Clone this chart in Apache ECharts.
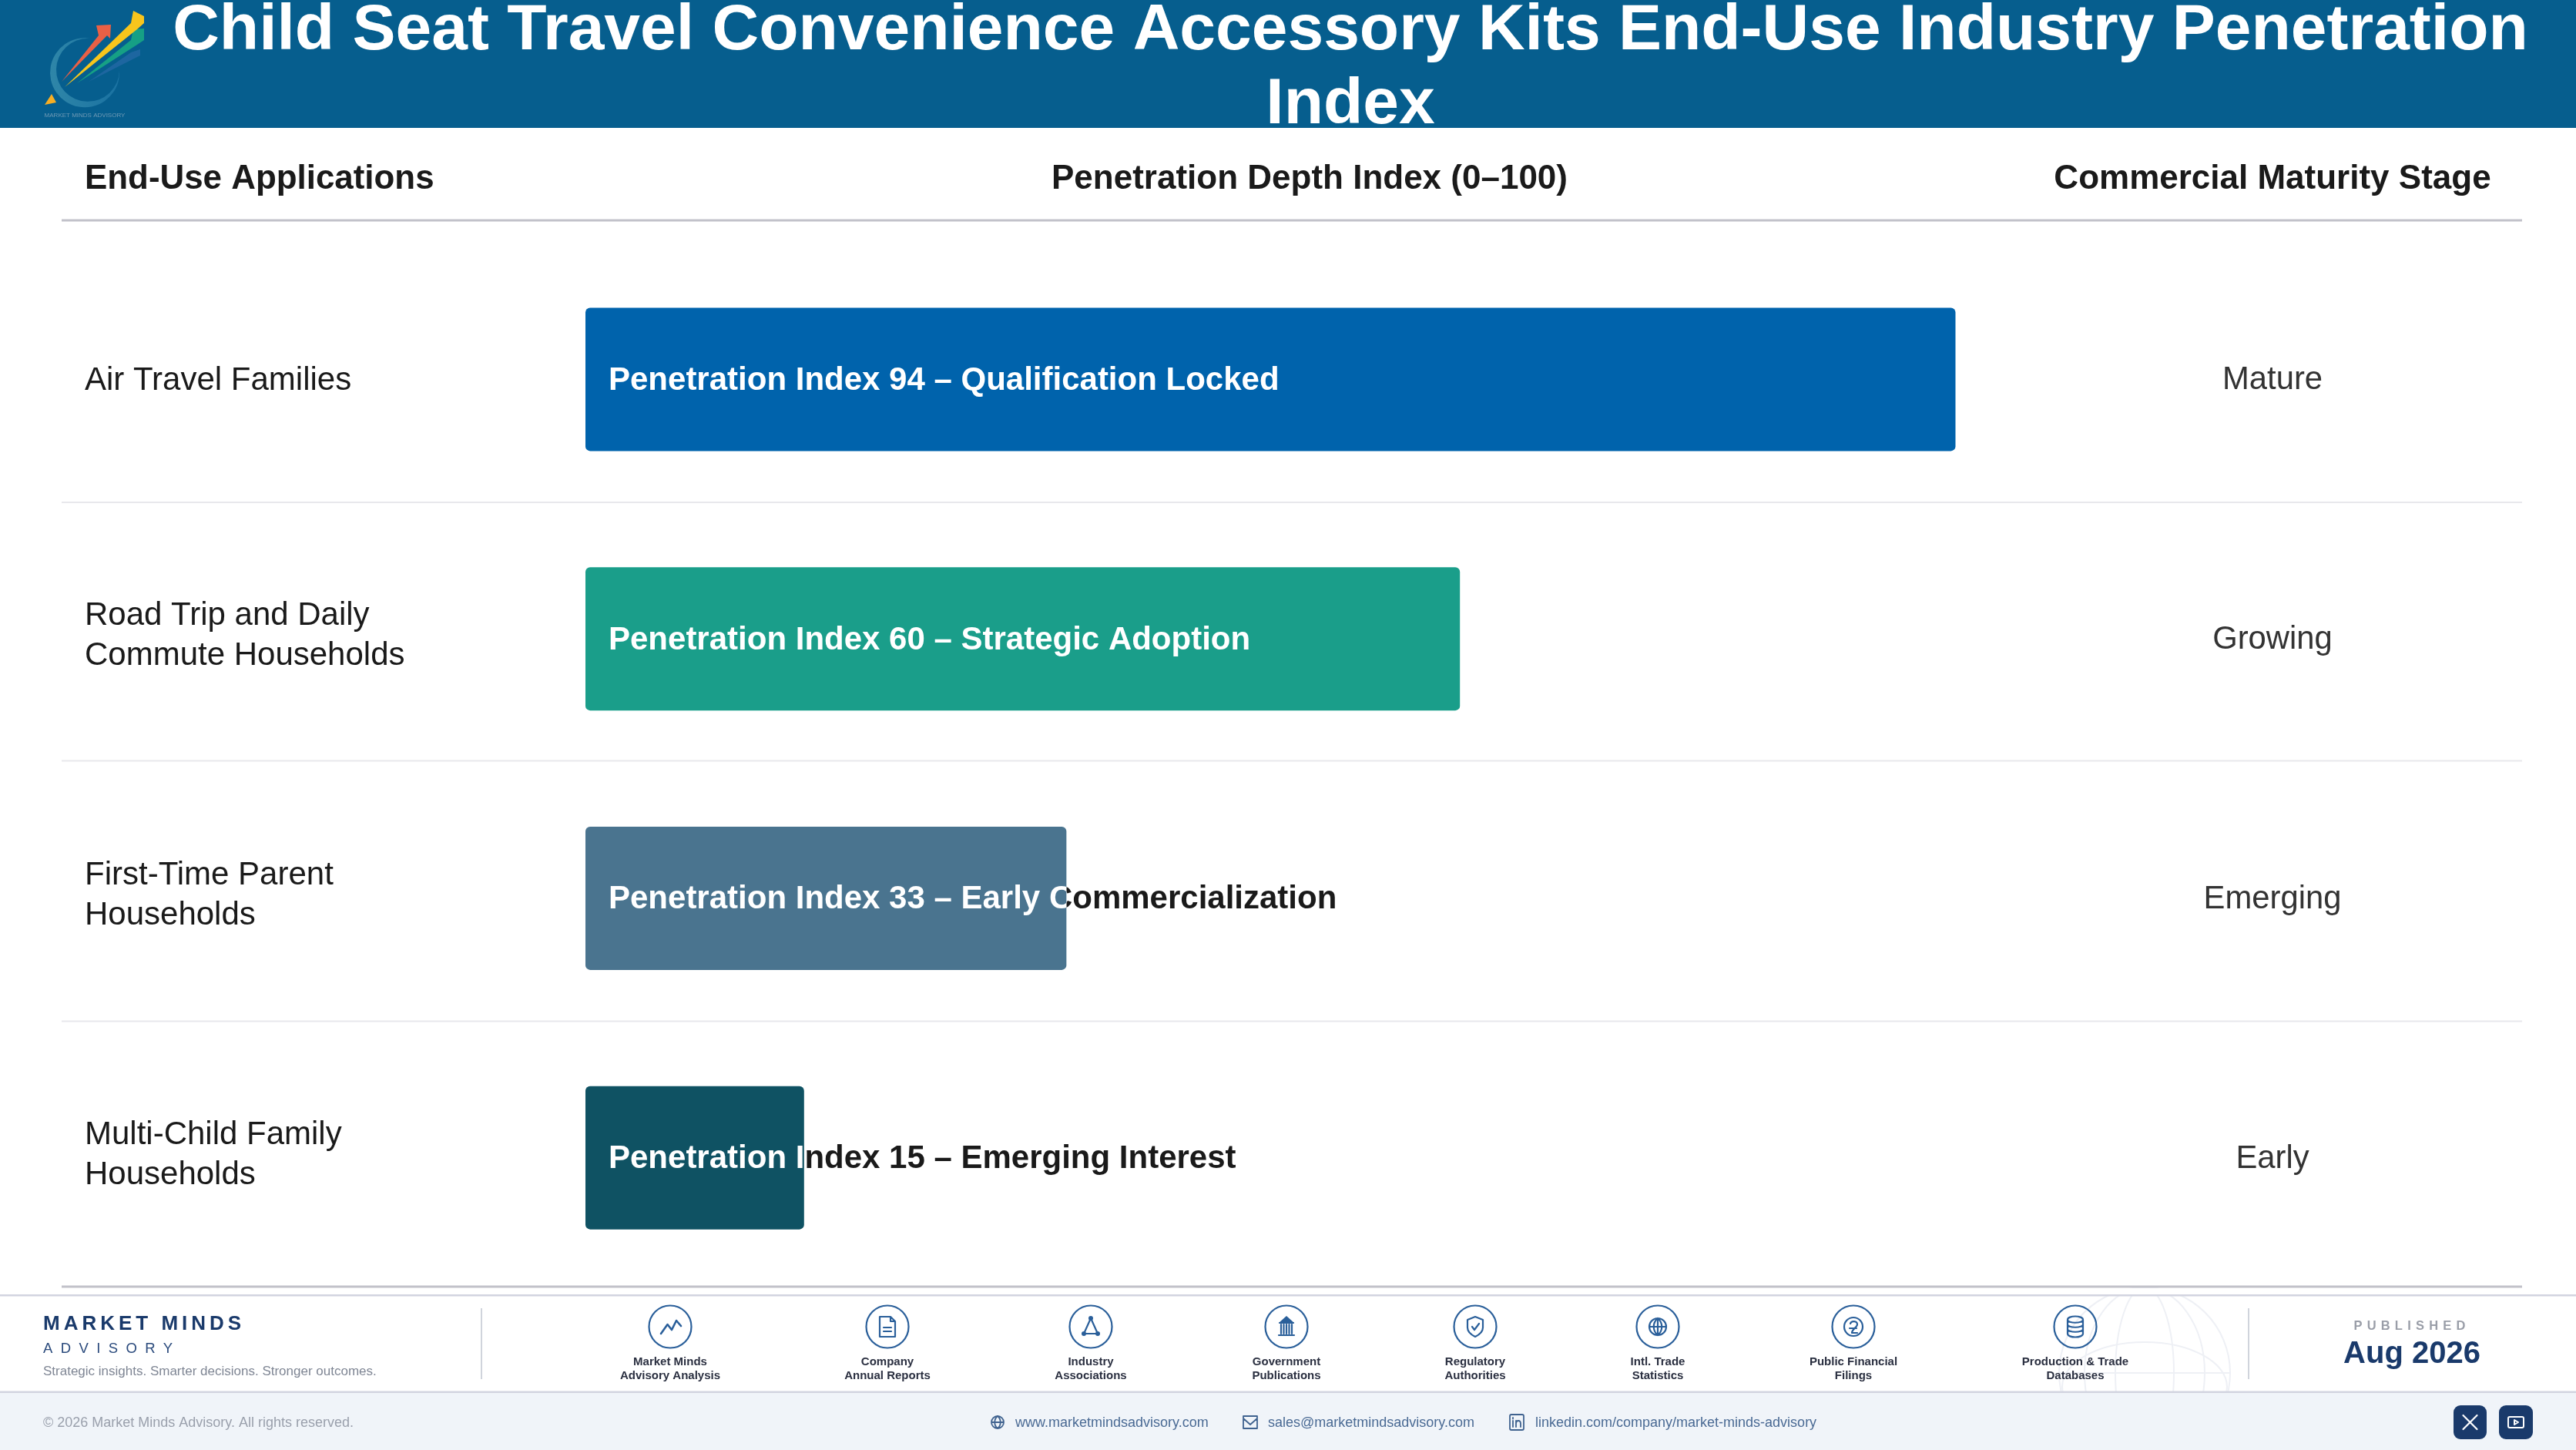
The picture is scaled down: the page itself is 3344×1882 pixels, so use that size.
<!DOCTYPE html>
<html>
<head>
<meta charset="utf-8">
<style>html,body{margin:0;padding:0;background:#fff}#c{width:3344px;height:1882px}</style>
<script src="https://cdn.jsdelivr.net/npm/echarts@6/dist/echarts.min.js"></script>
</head>
<body>
<div id="c"></div>
<script>
const titleText = 'Child Seat Travel Convenience Accessory Kits End-Use Industry Penetration\nIndex';
const columnHeaders = ['End-Use Applications', 'Penetration Depth Index (0–100)', 'Commercial Maturity Stage'];
const categories = ['Air Travel Families', 'Road Trip and Daily\nCommute Households', 'First-Time Parent\nHouseholds', 'Multi-Child Family\nHouseholds'];
const penetrationValues = [94, 60, 33, 15];
const adoptionPhases = ['Qualification Locked', 'Strategic Adoption', 'Early Commercialization', 'Emerging Interest'];
const maturityStages = ['Mature', 'Growing', 'Emerging', 'Early'];
const barColors = ['#0063ac', '#1a9e8a', '#4a748f', '#0f5263'];
const sourceLabels = ['Market Minds\nAdvisory Analysis', 'Company\nAnnual Reports', 'Industry\nAssociations', 'Government\nPublications', 'Regulatory\nAuthorities', 'Intl. Trade\nStatistics', 'Public Financial\nFilings', 'Production & Trade\nDatabases'];
const sourceCenters = [870, 1152, 1416, 1670, 1915, 2152, 2406, 2694];

const FF = '"Liberation Sans", Arial, sans-serif';
const LS = {'MARKET MINDS':'5px','ADVISORY':'10.4px','PUBLISHED':'6.2px'};
const origFill = CanvasRenderingContext2D.prototype.fillText;
CanvasRenderingContext2D.prototype.fillText = function (t, x, y, m) {
  this.letterSpacing = LS[t] || '0px';
  return m === undefined ? origFill.call(this, t, x, y) : origFill.call(this, t, x, y, m);
};

const iconPaths = {
  chart: 'M-12 9L-3.5 -3L2 4L8 -8L14 -1',
  doc: 'M-10 -13H4L10 -7V13H-10ZM4 -13V-7H10M-5 1H5M-5 6H5',
  tri: 'M0 -11L-9 9H9Z',
  bank: 'M-9 -5H9M-7 -3V9M-3.5 -3V9M0 -3V9M3.5 -3V9M7 -3V9M-10 11H10',
  shield: 'M0 -13L10 -9V1C10 7 4 11 0 13C-4 11 -10 7 -10 1V-9ZM-4 0L-1 4L5 -4',
  globe: 'M-11 0A11 11 0 1 1 11 0A11 11 0 1 1 -11 0ZM-11 0H11M0 -11V11M0 -11C-7 -5 -7 5 0 11M0 -11C7 -5 7 5 0 11',
  coin: 'M-12 0A12 12 0 1 1 12 0A12 12 0 1 1 -12 0ZM-4 -4C-3 -8 5 -8 5 -3C5 1 -2 3 -2 8H5M-5 2H4',
  db: 'M-10 -9C-10 -15 10 -15 10 -9C10 -4 -10 -4 -10 -9ZM-10 -9V9C-10 15 10 15 10 9V-9M-10 -3C-10 2 10 2 10 -3M-10 3C-10 8 10 8 10 3',
  mail: 'M-9 -8H9V8H-9ZM-9 -5L0 3L9 -5',
  web: 'M-8 0A8 8 0 1 1 8 0A8 8 0 1 1 -8 0ZM-8 0H8M0 -8C-5 -4 -5 4 0 8M0 -8C5 -4 5 4 0 8',
  linked: 'M-9 -8Q-9 -10 -7 -10H7Q9 -10 9 -8V8Q9 10 7 10H-7Q-9 10 -9 8ZM-5 -2V6M-1 6V-2M-1 2Q-1 -2 2 -2Q5 -2 5 2V6M-5 -6V-4.5',
  xmark: 'M-9 -9L9 9M9 -9L-9 9',
  play: 'M-10 -5Q-10 -7 -8 -7H8Q10 -7 10 -5V5Q10 7 8 7H-8Q-10 7 -10 5ZM-2 -3L3 0L-2 3Z',
  crescent: 'M118 50A45 45 0 1 0 155 92A41 41 0 1 1 118 50Z'
};
Object.keys(iconPaths).forEach(k => echarts.graphic.registerShape('ic_' + k, echarts.graphic.extendPath(iconPaths[k], {})));

function txt(text, x, y, font, fill, align, extra) {
  return {type:'text', x, y, z:10, silent:true, style:Object.assign({text, font, fill, align:align||'left', textAlign:align||'left', verticalAlign:'middle', textVerticalAlign:'middle'}, extra||{})};
}
function rect(x, y, w, h, fill, z, r) {
  return {type:'rect', silent:true, z:z||1, shape:{x, y, width:w, height:h, r:r||0}, style:{fill}};
}
function icon(k, x, y, stroke, sw, fill) {
  return {type:'ic_' + k, silent:true, x, y, z:10, style:{stroke:stroke||'#2a5f9a', lineWidth:sw||2, fill:fill||'none', lineCap:'round', lineJoin:'round'}};
}
function circle(x, y, r, stroke, sw, fill, z) {
  return {type:'circle', silent:true, z:z||10, shape:{cx:x, cy:y, r}, style:{stroke, lineWidth:sw, fill:fill||'none'}};
}
function poly(points, fill) {
  return {type:'polygon', silent:true, z:10, shape:{points}, style:{fill}};
}

const NAVY = '#1a3a6b', ICON = '#2a5f9a';
const g = [];
// header band
g.push(rect(0, 0, 3344, 166, '#065e8e', 1));
// logo
g.push({type:'ic_crescent', silent:true, z:10, style:{fill:new echarts.graphic.LinearGradient(0,0,1,0,[{offset:0,color:'#2f86a8'},{offset:1,color:'#1a72a2'}])}});
g.push(poly([[115,106],[170,68],[182,64],[182,72]], 'rgba(50,110,175,0.55)'));
g.push(poly([[100,108],[170,52],[173,38],[187,37],[187,52],[178,58]], '#16a085'));
g.push(poly([[84,113],[170,30],[173,14],[187,21],[187,30],[178,38]], '#f8c51c'));
g.push(poly([[80,106],[128,46],[125,33],[144,32],[143,50],[139,46]], '#ea6045'));
g.push(poly([[58,136],[67,122],[73,133]], '#f7ae24'));
g.push(txt('MARKET MINDS ADVISORY', 110, 150, '8px ' + FF, '#6f9ab5', 'center'));
// column headers
g.push(txt(columnHeaders[0], 110, 233, 'bold 43.9px ' + FF, '#1a1a1a'));
g.push(txt(columnHeaders[1], 1700, 233, 'bold 44px ' + FF, '#1a1a1a', 'center'));
g.push(txt(columnHeaders[2], 2950, 233, 'bold 44px ' + FF, '#1a1a1a', 'center'));
g.push(rect(80, 284.5, 3194, 3, '#c2c2ca', 3));
[652, 987.5, 1325.5].forEach(y => g.push(rect(80, y - 1, 3194, 2, '#e8e8ec', 3)));
g.push(rect(80, 1668.5, 3194, 3, '#c2c2ca', 3));
// watermark globe
[[111,111],[78,111],[38,111]].forEach(e => g.push({type:'ellipse', silent:true, z:1, shape:{cx:2784, cy:1782, rx:e[0], ry:e[1]}, style:{stroke:'#eef0f5', lineWidth:2, fill:'none'}}));
g.push({type:'line', silent:true, z:1, shape:{x1:2673, y1:1782, x2:2895, y2:1782}, style:{stroke:'#eef0f5', lineWidth:2}});
g.push({type:'ellipse', silent:true, z:1, shape:{cx:2784, cy:1800, rx:107, ry:58}, style:{stroke:'#eef0f5', lineWidth:2, fill:'none'}});
g.push(rect(0, 1672, 3344, 8, '#ffffff', 2));
// footer bands
g.push(rect(0, 1680, 3344, 2.5, '#d2d4e0', 3));
g.push(rect(0, 1807, 3344, 75, '#f0f4f9', 3));
g.push(rect(0, 1805.5, 3344, 2.5, '#d2d4e0', 4));
g.push(rect(624, 1698, 2, 92, '#d0d4dc', 4));
g.push(rect(2918, 1698, 2, 92, '#d0d4dc', 4));
// brand
g.push(txt('MARKET MINDS', 56, 1719, 'bold 26px ' + FF, NAVY));
g.push(txt('ADVISORY', 56, 1751, '18.5px ' + FF, '#2a4a7c'));
g.push(txt('Strategic insights. Smarter decisions. Stronger outcomes.', 56, 1780, '17px ' + FF, '#7f8694'));
// sources
const iconKeys = ['chart','doc','tri','bank','shield','globe','coin','db'];
sourceLabels.forEach((lab, i) => {
  const cx = sourceCenters[i];
  g.push(circle(cx, 1722, 27.5, ICON, 2.2));
  const k = iconKeys[i];
  g.push(icon(k, cx, 1722, ICON, k === 'chart' ? 2.6 : 2.2));
  if (k === 'tri') { [[0,-11],[-9,9],[9,9]].forEach(p => g.push(circle(cx + p[0], 1722 + p[1], 3, ICON, 0, ICON))); }
  if (k === 'bank') { g.push(poly([[cx-10,1717],[cx,1708],[cx+10,1717]], ICON)); }
  g.push(txt(lab, cx, 1777, 'bold 15px ' + FF, '#2a2f40', 'center', {lineHeight:18}));
});
// published
g.push(txt('PUBLISHED', 3131, 1721, 'bold 16.5px ' + FF, '#9a9ea8', 'center'));
g.push(txt('Aug 2026', 3131, 1758, 'bold 40px ' + FF, NAVY, 'center'));
// bottom strip
g.push(txt('© 2026 Market Minds Advisory. All rights reserved.', 56, 1847, '18px ' + FF, '#9aa0ac'));
g.push(icon('web', 1295, 1846, '#3f628f', 1.8));
g.push(txt('www.marketmindsadvisory.com', 1318, 1847, '18px ' + FF, '#4a6a94'));
g.push(icon('mail', 1623, 1846, '#3f628f', 1.8));
g.push(txt('sales@marketmindsadvisory.com', 1646, 1847, '18px ' + FF, '#4a6a94'));
g.push(icon('linked', 1969, 1846, '#3f628f', 1.8));
g.push(txt('linkedin.com/company/market-minds-advisory', 1993, 1847, '18px ' + FF, '#4a6a94'));
g.push(rect(3185, 1824, 43, 44, NAVY, 4, 9));
g.push(rect(3244, 1824, 44, 44, NAVY, 4, 9));
g.push(icon('xmark', 3206.5, 1846, '#ffffff', 2.2));
g.push(icon('play', 3266, 1846, '#ffffff', 2));

const labelFont = 'bold 42px ' + FF;
const barLabels = penetrationValues.map((v, i) => 'Penetration Index ' + v + ' – ' + adoptionPhases[i]);
const richLabel = v => v.indexOf('\n') >= 0
  ? v.split('\n').map(l => '{t|' + l + '}').join('\n') + '\n{up| }'
  : '{down| }\n{t|' + v + '}';

const option = {
  animation: false,
  backgroundColor: '#ffffff',
  title: {
    text: titleText, left: 1753, top: -7, textAlign: 'center', padding: 0,
    textStyle: {color:'#ffffff', fontFamily:FF, fontWeight:'bold', fontSize:84, lineHeight:96}
  },
  grid: {left:760, top:324, width:1892, height:1347, outerBoundsMode:'none'},
  xAxis: {type:'value', min:0, max:100, show:false},
  yAxis: [
    {type:'category', inverse:true, data:categories, position:'left',
      axisLine:{show:false}, axisTick:{show:false}, splitLine:{show:false},
      axisLabel:{align:'left', margin:650, formatter:richLabel, rich:{
        t:{fontFamily:FF, fontSize:42, lineHeight:52, color:'#1a1a1a'},
        up:{fontFamily:FF, fontSize:1, lineHeight:7},
        down:{fontFamily:FF, fontSize:1, lineHeight:4}
      }}},
    {type:'category', inverse:true, data:maturityStages, position:'right',
      axisLine:{show:false}, axisTick:{show:false}, splitLine:{show:false},
      axisLabel:{align:'center', margin:298, formatter:richLabel, rich:{
        t:{fontFamily:FF, fontSize:41.8, lineHeight:48, color:'#333333'},
        down:{fontFamily:FF, fontSize:1, lineHeight:3}
      }}}
  ],
  series: [
    {type:'bar', name:'Penetration Index', xAxisIndex:0, yAxisIndex:0, barWidth:186, silent:true, z:2,
      data: penetrationValues.map((v, i) => ({value:v, itemStyle:{color:barColors[i], borderRadius:6}}))},
    {type:'custom', name:'Labels', xAxisIndex:0, yAxisIndex:0, silent:true, z:3,
      encode:{x:0, y:1},
      data: penetrationValues.map((v, i) => [v, i, barLabels[i]]),
      renderItem(params, api) {
        const i = params.dataIndex;
        const a = api.coord([0, i]), b = api.coord([api.value(0), i]);
        const tx = a[0] + 30, ty = a[1] + 2;
        const label = barLabels[i];
        const t = fill => ({type:'text', x:tx, y:ty, style:{text:label, font:labelFont, fill, align:'left', verticalAlign:'middle'}});
        return {type:'group', children:[
          {type:'group', clipPath:{type:'rect', shape:{x:b[0], y:ty-60, width:2000, height:120}}, children:[t('#1a1a1a')]},
          {type:'group', clipPath:{type:'rect', shape:{x:a[0], y:ty-60, width:b[0]-a[0], height:120}}, children:[t('#ffffff')]}
        ]};
      }}
  ],
  graphic: {elements: g}
};
const chart = echarts.init(document.getElementById('c'), null, {renderer:'canvas', devicePixelRatio:1, width:3344, height:1882});
chart.setOption(option);
</script>
</body>
</html>
